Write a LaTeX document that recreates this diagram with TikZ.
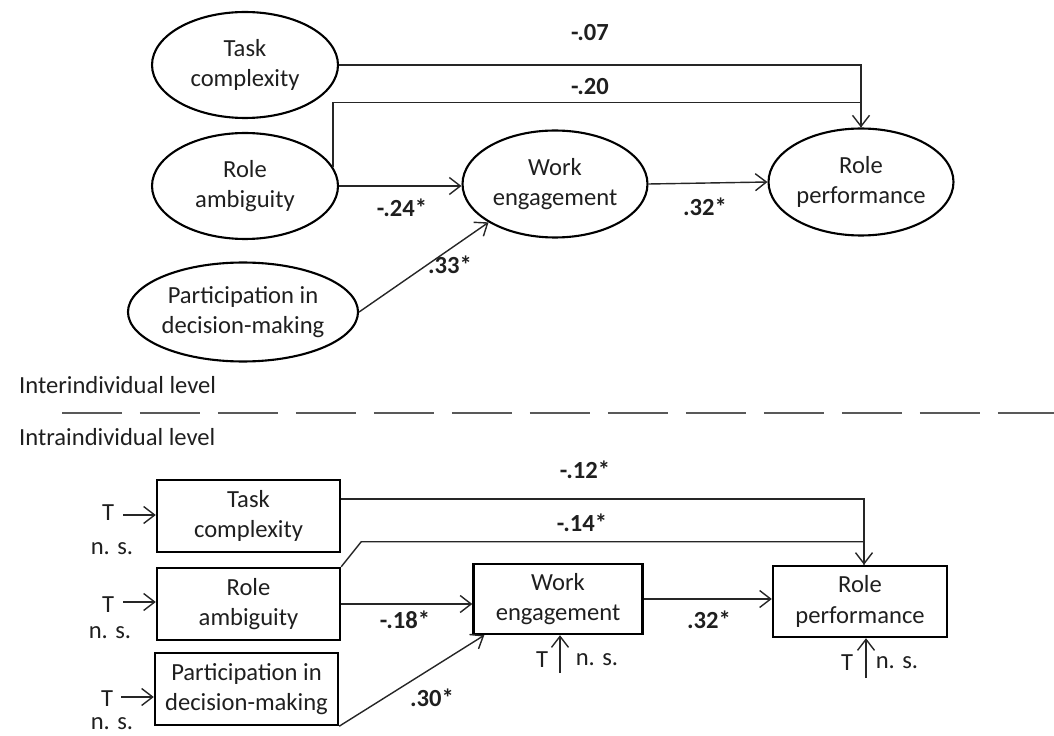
\documentclass[tikz,border=0pt]{standalone}
\usepackage{fontspec}
\setmainfont{Carlito}
\usetikzlibrary{shapes.geometric,arrows.meta}
\begin{document}
\begin{tikzpicture}[x=0.02cm,y=-0.02cm,
  every node/.style={font=\fontsize{14}{17.5}\selectfont, text=black!88},
  ell/.style={ellipse, draw, line width=1.2pt, inner sep=0pt, align=center},
  bx/.style={rectangle, draw, line width=1.4pt, inner sep=0pt, align=center},
  conn/.style={line width=0.8pt, draw=black!85},
  arr/.style={conn, -{Straight Barb[length=2.2mm,width=3.4mm]}},
  coef/.style={font=\fontsize{14}{17.5}\selectfont\bfseries},
  lvl/.style={anchor=base west}]
\useasboundingbox (0,0) rectangle (1054,736);
% ---------- interindividual level ----------
\node[ell, minimum width=3.72cm, minimum height=2.12cm] (tc) at (245,65) {Task\\complexity};
\node[ell, minimum width=3.72cm, minimum height=2.12cm] (ra) at (245,186) {Role\\ambiguity};
\node[ell, minimum width=3.74cm, minimum height=1.98cm] (pd) at (243,312) {Participation in\\decision-making};
\node[ell, minimum width=3.70cm, minimum height=2.14cm] (we) at (555,184) {Work\\engagement};
\node[ell, minimum width=3.70cm, minimum height=2.14cm] (rp) at (861,182) {Role\\performance};

\draw[arr] (tc.east) -| (rp.north);
\draw[conn] (ra.12) -- ++(0,-65) -| (rp.north);
\draw[arr] (ra.east) -- (ra.east -| we.west);
\draw[arr] (we.east) -- (rp.west);
\draw[arr] (pd.east) -- (we.210);

\node[coef] (l1) at (590,33) {-.07};
\node[coef] (l2) at (590,87) {-.20};
\node[coef] (l3) at (402,208) {-.24*};
\node[coef] (l4) at (705,207) {.32*};
\node[coef] (l5) at (450,265) {.33*};

% ---------- separator ----------
\node[lvl] (inter) at (13,393) {Interindividual level};
\coordinate (d0) at (62,413);
\coordinate (d1) at (1054,413);
\draw[line width=0.9pt, draw=black!65, dash pattern=on 1.2cm off 0.36cm] (d0) -- (d1);
\node[lvl] (intra) at (13,445) {Intraindividual level};

% ---------- intraindividual level ----------
\node[bx, minimum width=3.66cm, minimum height=1.44cm] (tcb) at (248.5,516) {Task\\complexity};
\node[bx, minimum width=3.66cm, minimum height=1.44cm] (rab) at (248.5,604) {Role\\ambiguity};
\node[bx, minimum width=3.66cm, minimum height=1.44cm] (pdb) at (246.5,689) {Participation in\\decision-making};
\node[bx, minimum width=3.38cm, minimum height=1.40cm] (web) at (558,599) {Work\\engagement};
\node[bx, minimum width=3.48cm, minimum height=1.42cm] (rpb) at (860,601.5) {Role\\performance};

\draw[arr] ([yshift=0.34cm]tcb.east) -| ([xshift=0.08cm]rpb.north);
\draw[conn] (rab.north east) -- ++(20,-25) -| ([xshift=0.08cm]rpb.north);
\draw[arr] (rab.east) -- (rab.east -| web.west);
\draw[arr] (web.east) -- (web.east -| rpb.west);
\draw[arr] (pdb.south east) -- ([xshift=0.24cm]web.south west);

\node[coef] (b1) at (585,470) {-.12*};
\node[coef] (b2) at (582,523) {-.14*};
\node[coef] (b3) at (405,620) {-.18*};
\node[coef] (b4) at (709,620) {.32*};
\node[coef] (b5) at (432,698) {.30*};

% T / n. s. markers
\node (t1) at (108,513) {T};
\node (n1) at (112,549) {n. s.};
\coordinate (a1) at (123,515);
\draw[arr] (a1) -- (a1 -| tcb.west);
\node (t2) at (108,605) {T};
\node (n2) at (110,633) {n. s.};
\coordinate (a2) at (123,602);
\draw[arr] (a2) -- (a2 -| rab.west);
\node (t3) at (107,699) {T};
\node[inner ysep=1pt] (n3) at (112,724) {n. s.};
\coordinate (a3) at (121,697);
\draw[arr] (a3) -- (a3 -| pdb.west);

\node (t4) at (542,660) {T};
\node (n4) at (597,660) {n. s.};
\coordinate (a4) at (560,673);
\draw[arr] (a4) -- (a4 |- web.south);
\node (t5) at (847,663) {T};
\node (n5) at (897,663) {n. s.};
\coordinate (a5) at (866,678);
\draw[arr] (a5) -- (a5 |- rpb.south);
\end{tikzpicture}
\end{document}
